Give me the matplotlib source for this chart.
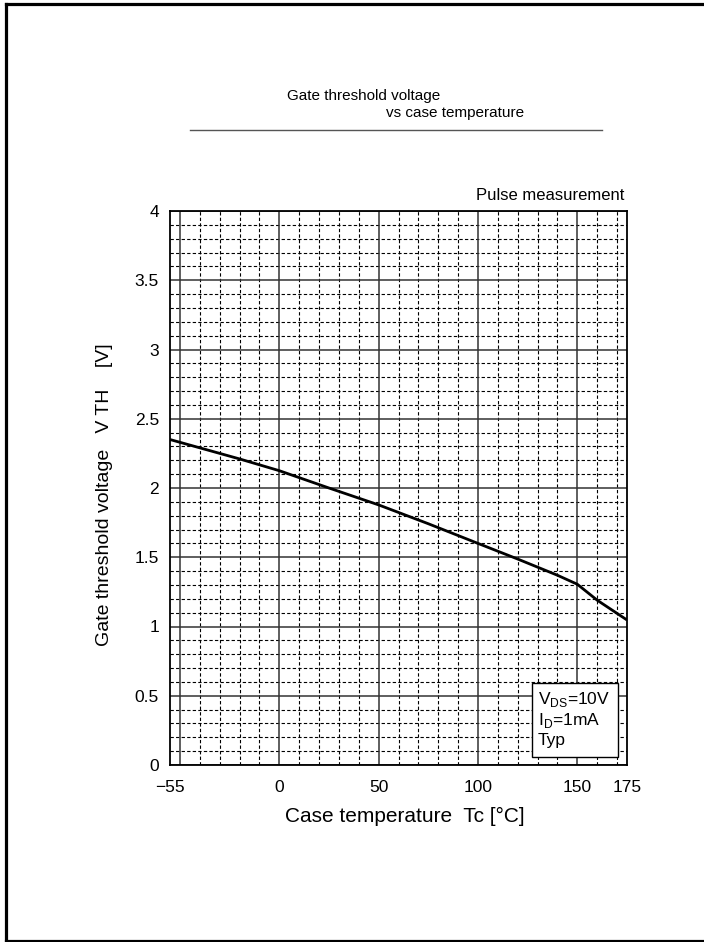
import numpy as np
import matplotlib
matplotlib.use("Agg")
import matplotlib.pyplot as plt
from matplotlib.lines import Line2D
from matplotlib.patches import Rectangle

plt.rcParams['font.family'] = ['Liberation Sans', 'DejaVu Sans']
plt.rcParams['mathtext.fontset'] = 'custom'
plt.rcParams['mathtext.rm'] = 'Liberation Sans'

# curve
temp_c = [-55, -20, 0, 25, 50, 75, 100, 120, 140, 150, 160, 175]
vth = [2.35, 2.21, 2.125, 2.00, 1.878, 1.742, 1.60, 1.487, 1.37, 1.305, 1.19, 1.047]

xtick_vals = [-55, 0, 50, 100, 150, 175]
xtick_labels = ['\u221255', '0', '50', '100', '150', '175']
x_major_grid = [-50, 0, 50, 100, 150]
x_minor_grid = np.arange(-50, 175, 10)
ytick_vals = np.arange(0, 4.01, 0.5)
ytick_labels = ['0', '0.5', '1', '1.5', '2', '2.5', '3', '3.5', '4']
y_minor_grid = np.arange(0, 4.01, 0.1)

W, H = 704, 942
fig = plt.figure(figsize=(W / 100, H / 100), dpi=100)
ax = fig.add_axes([170 / W, (H - 765) / H, 457 / W, 554 / H])

ax.set_xlim(-55, 175)
ax.set_ylim(0, 4)

dash = (0, (3, 2))
for x in x_minor_grid:
    if x not in x_major_grid:
        ax.axvline(x, color='black', lw=0.8, ls=dash, zorder=1)
for y in y_minor_grid:
    if abs(y * 2 - round(y * 2)) > 1e-6:
        ax.axhline(y, color='black', lw=0.8, ls=dash, zorder=1)
for x in x_major_grid:
    ax.axvline(x, color='#333333', lw=1.1, zorder=2)
for y in ytick_vals:
    ax.axhline(y, color='#333333', lw=1.1, zorder=2)

ax.plot(temp_c, vth, color='black', lw=2.0, zorder=4, solid_capstyle='butt')

ax.set_xticks(xtick_vals)
ax.set_xticklabels(xtick_labels)
ax.set_yticks(ytick_vals)
ax.set_yticklabels(ytick_labels)
ax.tick_params(axis='both', length=0, labelsize=12.5)
ax.tick_params(axis='x', pad=11)
ax.tick_params(axis='y', pad=8)
for s in ax.spines.values():
    s.set_linewidth(1.3)
    s.set_zorder(5)

# condition box
ax.add_patch(Rectangle((0.792, 0.0144), 0.188, 0.134, transform=ax.transAxes,
                       facecolor='white', edgecolor='black', lw=1.0, zorder=6))
ax.text(0.805, 0.118, r'V$_{\rm DS}$=10V', transform=ax.transAxes, fontsize=12.5,
        va='center', ha='left', zorder=7)
ax.text(0.805, 0.081, r'I$_{\rm D}$=1mA', transform=ax.transAxes, fontsize=12.5,
        va='center', ha='left', zorder=7)
ax.text(0.805, 0.044, 'Typ', transform=ax.transAxes, fontsize=12.5,
        va='center', ha='left', zorder=7)

# titles and labels
fig.text(287 / W, 1 - 96 / H, 'Gate threshold voltage', fontsize=11, va='center', ha='left')
fig.text(386 / W, 1 - 113 / H, 'vs case temperature', fontsize=11, va='center', ha='left')
fig.add_artist(Line2D([190 / W, 602 / W], [1 - 130 / H, 1 - 130 / H], color='#555555', lw=1.0))
fig.text(624 / W, 1 - 196 / H, 'Pulse measurement', fontsize=12, va='center', ha='right')
fig.text(105 / W, 1 - 495 / H, 'Gate threshold voltage   V TH    [V]', fontsize=14,
         rotation=90, va='center', ha='center')
fig.text(405 / W, 1 - 816 / H, 'Case temperature  Tc [\u00b0C]', fontsize=15,
         va='center', ha='center')

# page frame
fig.add_artist(Line2D([5.5 / W, 5.5 / W], [0, 1 - 3.5 / H], color='black', lw=2.3))
fig.add_artist(Line2D([5.5 / W, 1], [1 - 3.5 / H, 1 - 3.5 / H], color='black', lw=2.3))
fig.add_artist(Line2D([5.5 / W, 1], [1.5 / H, 1.5 / H], color='black', lw=2.3))

fig.savefig('out.png', dpi=100)
